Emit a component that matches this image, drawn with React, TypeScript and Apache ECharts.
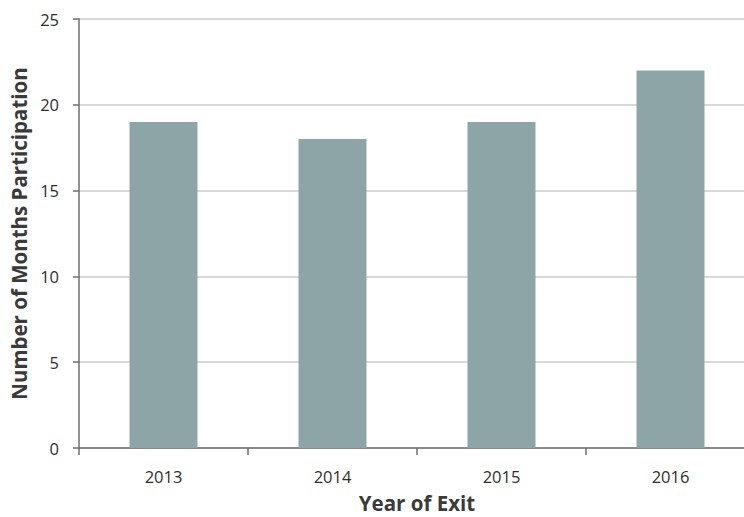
import React, { useEffect, useRef } from "react";
import * as echarts from "echarts";

const categories = ["2013", "2014", "2015", "2016"];
const months = [19, 18, 19, 22];
const yTicks = { min: 0, max: 25, interval: 5 };

export default function App() {
  const ref = useRef<HTMLDivElement>(null);
  useEffect(() => {
    if (!ref.current) return;
    const chart = echarts.init(ref.current, undefined, { renderer: "svg" });
    chart.setOption({
      animation: false,
      textStyle: { fontFamily: "Open Sans" },
      grid: { left: 79, top: 19, width: 676, height: 429, outerBoundsMode: "none", containLabel: false },
      xAxis: {
        type: "category",
        data: categories,
        name: "Year of Exit",
        nameLocation: "middle",
        nameGap: 44,
        nameTextStyle: { fontSize: 20.5, fontWeight: "bold", color: "#3a3a3a", fontFamily: "Open Sans", lineHeight: 22 },
        axisLine: { lineStyle: { color: "#6f6f6f", width: 1.5 } },
        axisTick: { show: true, length: 7, lineStyle: { color: "#6f6f6f", width: 1.5 } },
        axisLabel: { fontSize: 16.5, color: "#2e2e2e", margin: 20, fontFamily: "Open Sans" },
      },
      yAxis: {
        type: "value",
        min: yTicks.min,
        max: yTicks.max,
        interval: yTicks.interval,
        name: "Number of Months Participation",
        nameLocation: "middle",
        nameGap: 46,
        nameTextStyle: { fontSize: 20.5, fontWeight: "bold", color: "#3a3a3a", fontFamily: "Open Sans" },
        axisLine: { show: true, lineStyle: { color: "#6f6f6f", width: 1.5 } },
        axisTick: { show: true, length: 6, lineStyle: { color: "#6f6f6f", width: 1.5 } },
        axisLabel: { fontSize: 16.5, color: "#2e2e2e", margin: 20, fontFamily: "Open Sans" },
        splitLine: { show: true, lineStyle: { color: "#cccccc", width: 1.5 } },
      },
      series: [
        {
          type: "bar",
          data: months,
          barWidth: 68,
          itemStyle: { color: "#8ea5a8" },
        },
      ],
    });
    return () => chart.dispose();
  }, []);
  return (
    <div style={{ width: 744, height: 517, position: "absolute", left: 0, top: 0, overflow: "hidden" }}>
      <div ref={ref} style={{ width: 760, height: 517 }} />
    </div>
  );
}
